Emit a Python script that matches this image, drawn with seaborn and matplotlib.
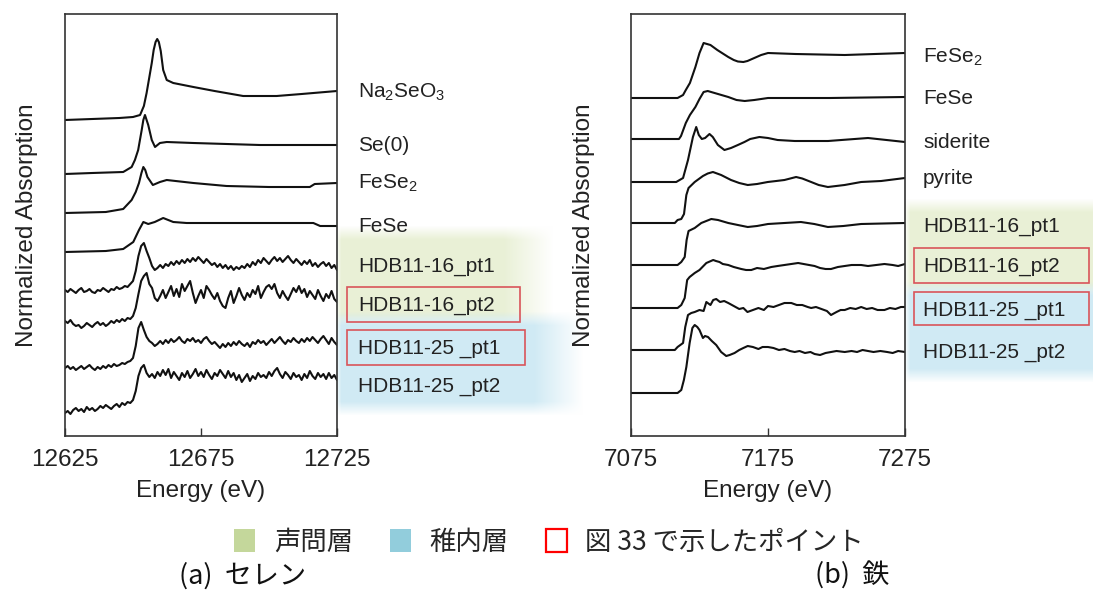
import numpy as np
import pandas as pd
import matplotlib
matplotlib.use("Agg")
import matplotlib.pyplot as plt
from matplotlib.patches import Patch, Rectangle
import seaborn as sns

# ---------------- data (heights in arbitrary stacked absorption units) ----------------
# (a) Se K-edge
se_energy_grid = np.arange(12625, 12726, 1)

se_na2seo3_e = [12625, 12635, 12645, 12650, 12652.6, 12654, 12655.0, 12656.9, 12657.6, 12658.3, 12658.9,
                12659.5, 12660.2, 12661.1, 12662.4, 12664.8, 12672.2, 12680, 12690.5, 12702.8, 12712, 12725]
se_na2seo3_y = [316, 317, 318, 319, 321, 330, 343, 373, 386, 394, 397,
                394, 385, 366, 356, 353, 349, 345, 340, 340, 342, 345]

se_se0_e = [12625, 12635, 12646.4, 12649.5, 12650.7, 12651.9, 12653.2, 12653.8, 12654.4, 12655.6, 12656.9,
            12658.1, 12659.9, 12662.4, 12672.2, 12696.7, 12725]
se_se0_y = [262, 263, 264, 269, 276, 286, 306, 316, 321, 311, 296,
            289, 293, 294, 293, 291, 291]

se_fese2_e = [12625, 12640, 12646.4, 12649.5, 12651, 12652.2, 12653.1, 12653.8, 12654.5, 12655.3, 12657.3,
              12659.9, 12662.4, 12672.2, 12684.4, 12700, 12715.0, 12716.8, 12725]
se_fese2_y = [223, 224, 227, 236, 244, 253, 263, 269, 266, 259, 251,
              254, 256, 253, 250, 249, 249, 252, 253]

se_fese_e = [12625, 12640, 12646.4, 12650.1, 12652.2, 12653.8, 12655.6, 12658, 12661.1, 12664.8, 12669.7,
             12696.7, 12716.3, 12718.8, 12725]
se_fese_y = [184, 185, 187, 194, 206, 214, 212, 214, 218, 214, 213,
             213, 213, 210, 210]

se_hdb16_pt1_y = [146, 144, 147, 145, 143, 146, 148, 144, 145, 147, 144, 143, 146, 145, 148, 146, 144, 147, 146, 149,
                  147, 148, 150, 149, 152, 155,
                  165, 180, 190, 193, 185, 178, 170, 166, 168,
                  171, 168, 172, 170, 174, 171, 175, 172, 176, 173, 177,
                  174, 178, 175, 179, 176, 173, 177, 174, 171, 173,
                  169, 172, 168, 171, 167, 170, 166, 169, 167, 170,
                  168, 172, 169, 174, 171, 176, 173, 178, 175, 172,
                  176, 179, 175, 178, 174, 177, 180, 176, 173, 177,
                  174, 171, 175, 172, 176, 170, 173, 169, 172, 174,
                  170, 173, 168, 171, 166]

se_hdb16_pt2_y = [115, 113, 116, 112, 110, 111, 108, 110, 113, 111, 109, 112, 114, 111, 113, 110, 112, 115, 113, 116,
                  114, 117, 115, 118, 117,
                  120, 128, 142, 155, 160, 163, 152, 148, 138, 135, 140,
                  146, 138, 144, 150, 140, 147, 139, 152, 145, 150,
                  155, 143, 133, 140, 146, 138, 150, 146, 141, 137,
                  143, 135, 130, 128, 138, 145, 133, 140, 148, 141,
                  136, 143, 139, 146, 142, 150, 138, 144, 149, 151,
                  147, 152, 143, 138, 145, 140, 136, 142, 148, 144,
                  150, 143, 147, 139, 145, 141, 137, 146, 140, 135,
                  142, 138, 145, 137, 134]

se_hdb25_pt1_y = [68, 70, 67, 69, 66, 68, 70, 67, 69, 71, 68, 66, 69, 67, 70, 68, 71, 69, 72, 70,
                  71, 73, 72, 74, 75,
                  78, 90, 108, 114, 106, 99, 95, 93, 90, 92,
                  95, 92, 96, 93, 97, 94, 96, 99, 95, 93, 97,
                  95, 98, 94, 96, 93, 97, 99, 95, 92, 94,
                  91, 88, 92, 89, 93, 90, 94, 91, 95, 92,
                  90, 93, 89, 94, 92, 96, 93, 95, 91, 94,
                  97, 93, 96, 99, 95, 92, 96, 94, 98, 95,
                  93, 97, 94, 98, 95, 99, 96, 93, 97, 100,
                  96, 92, 98, 94, 91]

se_hdb25_pt2_y = [23, 25, 22, 26, 28, 25, 27, 24, 29, 26, 28, 25, 27, 30, 28, 31, 29, 27, 30, 32,
                  29, 33, 31, 34, 33,
                  36, 45, 60, 68, 71, 63, 59, 62, 58, 64,
                  60, 66, 61, 67, 58, 64, 60, 56, 63, 59, 65,
                  58, 62, 67, 60, 64, 59, 66, 61, 57, 63,
                  60, 66, 62, 58, 65, 59, 63, 56, 61, 54,
                  58, 62, 55, 60, 57, 63, 59, 61, 58, 64,
                  60, 65, 68, 62, 58, 64, 61, 57, 63, 59,
                  61, 56, 62, 58, 65, 60, 57, 63, 59, 62,
                  57, 63, 58, 61, 56]

# (b) Fe K-edge
fe_fese2_e = [7075, 7109, 7113, 7115, 7118, 7120, 7122, 7125, 7128, 7133, 7138, 7146, 7150, 7153, 7157,
              7160, 7165, 7170, 7175, 7185, 7195, 7231, 7275]
fe_fese2_y = [338, 338, 341, 346, 353, 361, 369, 383, 393, 391, 386, 379, 376, 374.5, 374,
              375, 378, 381, 383, 382.5, 382, 381, 383]

fe_fese_e = [7075, 7110, 7111.5, 7115, 7118, 7122, 7125, 7128, 7131, 7136, 7141, 7146, 7152, 7158, 7165,
             7175, 7220, 7275]
fe_fese_y = [297, 297, 300, 313, 321, 329, 337, 344, 345, 343, 341, 339, 336, 335, 336,
             338, 338, 339]

fe_siderite_e = [7075, 7108, 7113, 7116.6, 7120.2, 7122.6, 7124.5, 7126.7, 7129.1, 7132.3, 7134.7, 7138.4,
                 7143.2, 7148, 7153, 7157.8, 7162, 7168.7, 7175, 7182, 7194.5, 7218.8, 7248, 7275]
fe_siderite_y = [254, 254, 258, 276, 299, 309, 301, 297, 298, 302, 299, 291,
                 286, 288, 291, 294, 297, 299, 298, 296, 295, 295, 298, 294]

fe_pyrite_e = [7075, 7107, 7109, 7111.7, 7113.7, 7115.4, 7117, 7121.5, 7127.5, 7131, 7134.8, 7140.8, 7148,
               7154, 7160.2, 7167, 7174.8, 7181, 7187, 7195.5, 7200, 7206.5, 7212, 7218.7, 7230.9, 7243,
               7257.6, 7275]
fe_pyrite_y = [213, 213, 216, 217, 222, 241, 248, 254, 260, 262.5, 264, 261, 256,
               253, 251, 252, 254, 255, 256, 259, 257.5, 254, 251, 249, 251, 254,
               255, 258]

fe_hdb16_pt1_e = [7075, 7109, 7111.7, 7114.2, 7115.6, 7117, 7121.5, 7126.3, 7133.6, 7138.5, 7146, 7153, 7160.2,
                  7167, 7175, 7187, 7199, 7208.8, 7218.7, 7230, 7243, 7275]
fe_hdb16_pt1_y = [171, 171, 174, 179, 196, 205, 208, 213, 217, 216, 213, 211, 209,
                  210, 212, 213, 214, 212, 209, 210, 212, 213]

fe_hdb16_pt2_e = [7075, 7109, 7111.7, 7114.2, 7116, 7117.8, 7121.5, 7125, 7130, 7135, 7137, 7139.6, 7142, 7146,
                  7150, 7155.5, 7159, 7162.8, 7167, 7172, 7177.4, 7182, 7187, 7192, 7197, 7201, 7205, 7209,
                  7213, 7217, 7221, 7226, 7231, 7236, 7243, 7248, 7254, 7260, 7266, 7270, 7275]
fe_hdb16_pt2_y = [128, 128, 131, 138, 156, 159, 163, 166, 173, 176, 175, 174, 172, 171,
                  169, 167, 166, 166, 168, 167, 169, 170, 171, 172, 173, 172, 171, 170,
                  168, 167, 167, 169, 170, 171, 171, 170, 171, 172, 171, 170, 172]

fe_hdb25_pt1_e = [7075, 7107, 7109, 7113, 7114.6, 7116.6, 7119, 7121.5, 7125, 7128, 7130, 7133, 7135, 7137.2,
                  7140, 7143, 7146, 7150, 7154, 7157, 7160, 7164, 7168, 7172, 7175, 7179, 7183, 7187, 7192,
                  7196, 7200, 7204, 7206.5, 7210, 7214, 7218, 7221, 7225, 7228, 7231, 7235, 7239, 7243,
                  7247, 7251, 7255, 7260, 7264, 7268, 7272, 7275]
fe_hdb25_pt1_y = [86, 86, 89, 93, 109, 121, 123, 124, 126, 125, 134, 131, 136, 137,
                  134, 135, 133, 130, 127, 128, 124, 126, 128, 126, 130, 129, 131, 133, 133,
                  131, 131, 129, 128, 129, 127, 125, 121, 124, 126, 126, 128, 127, 129,
                  127, 128, 126, 126, 128, 127, 129, 129]

fe_hdb25_pt2_e = [7075, 7109, 7111.7, 7113.6, 7115.4, 7117.8, 7119.8, 7121.5, 7123.4, 7125, 7127.5, 7129,
                  7131.2, 7134, 7137.2, 7140.8, 7144.5, 7147, 7150.6, 7154, 7157, 7160.2, 7164, 7168, 7171,
                  7175, 7179, 7183, 7187, 7191, 7194.5, 7198, 7202, 7206, 7209, 7213, 7217, 7221, 7225,
                  7231, 7236, 7240, 7244, 7248, 7252, 7257, 7262, 7266, 7270, 7275]
fe_hdb25_pt2_y = [43, 43, 46, 56, 69, 93, 108, 111, 109, 106, 98, 100,
                  99, 95, 91, 84, 80, 81, 83, 86, 88, 90, 89, 87, 89,
                  89, 88, 86, 87, 85, 84, 85, 83, 84, 82, 81, 83, 84, 85,
                  84, 85, 84, 86, 85, 84, 85, 84, 83, 85, 84]

se_labels = ["Na$_2$SeO$_3$", "Se(0)", "FeSe$_2$", "FeSe",
             "HDB11-16_pt1", "HDB11-16_pt2", "HDB11-25 _pt1", "HDB11-25 _pt2"]
fe_labels = ["FeSe$_2$", "FeSe", "siderite", "pyrite",
             "HDB11-16_pt1", "HDB11-16_pt2", "HDB11-25 _pt1", "HDB11-25 _pt2"]

se_ticks = [12625, 12675, 12725]
fe_ticks = [7075, 7175, 7275]
x_label = "Energy (eV)"
y_label = "Normalized Absorption"
legend_labels = ["声問層", "稚内層", "図 33 で示したポイント"]
captions = ["(a)  セレン", "(b)  鉄"]

# ---------------- build long-form tables ----------------
se_series = [
    (se_na2seo3_e, se_na2seo3_y), (se_se0_e, se_se0_y), (se_fese2_e, se_fese2_y), (se_fese_e, se_fese_y),
    (se_energy_grid, se_hdb16_pt1_y), (se_energy_grid, se_hdb16_pt2_y),
    (se_energy_grid, se_hdb25_pt1_y), (se_energy_grid, se_hdb25_pt2_y),
]
fe_series = [
    (fe_fese2_e, fe_fese2_y), (fe_fese_e, fe_fese_y), (fe_siderite_e, fe_siderite_y), (fe_pyrite_e, fe_pyrite_y),
    (fe_hdb16_pt1_e, fe_hdb16_pt1_y), (fe_hdb16_pt2_e, fe_hdb16_pt2_y),
    (fe_hdb25_pt1_e, fe_hdb25_pt1_y), (fe_hdb25_pt2_e, fe_hdb25_pt2_y),
]


def to_df(series, labels):
    frames = []
    for (e, y), lab in zip(series, labels):
        frames.append(pd.DataFrame({"energy": np.asarray(e, float), "absorption": np.asarray(y, float), "sample": lab}))
    return pd.concat(frames, ignore_index=True)


se_df = to_df(se_series, se_labels)
fe_df = to_df(fe_series, fe_labels)

# ---------------- style ----------------
sns.set_theme(style="white")
plt.rcParams["font.family"] = ["Liberation Sans", "Noto Sans CJK JP", "DejaVu Sans"]
plt.rcParams["mathtext.fontset"] = "custom"
plt.rcParams["mathtext.rm"] = "Liberation Sans"
plt.rcParams["mathtext.it"] = "Liberation Sans:italic"
plt.rcParams["mathtext.bf"] = "Liberation Sans:bold"

W, H = 1093, 594
fig = plt.figure(figsize=(W / 100, H / 100), dpi=100)
fig.patch.set_facecolor("white")


def fx(x):
    return x / W


def fy(y):
    return 1 - y / H


# soft coloured backgrounds behind sample labels
bg = fig.add_axes([0, 0, 1, 1], zorder=0)
yy, xx = np.mgrid[0:H, 0:W]
img = np.ones((H, W, 3))


def soft(t, a, b, wa, wb):
    return np.clip((t - a) / wa + 0.5, 0, 1) * np.clip((b - t) / wb + 0.5, 0, 1)


green_bg = np.array([233, 240, 214]) / 255
blue_bg = np.array([208, 234, 244]) / 255
regions = [
    (338, 528, 232, 322, green_bg, 50),
    (338, 558, 318, 408, blue_bg, 50),
    (907, 1110, 205, 292, green_bg, 30),
    (907, 1110, 288, 375, blue_bg, 30),
]
for x0, x1, y0, y1, col, fr in regions:
    a = soft(xx, x0, x1, 6, fr) * soft(yy, y0, y1, 14, 14)
    img = img * (1 - a[..., None]) + col * a[..., None]
bg.imshow(img, extent=(0, W, H, 0), aspect="auto", interpolation="bilinear")
bg.set_xlim(0, W)
bg.set_ylim(H, 0)
bg.axis("off")

axL = fig.add_axes([fx(65), fy(436), 272 / W, 422 / H], zorder=2)
axR = fig.add_axes([fx(631), fy(436), 274 / W, 422 / H], zorder=2)

for ax, df, ticks, xlim, ylab_x in [
    (axL, se_df, se_ticks, (12625, 12725), -27 / 272),
    (axR, fe_df, fe_ticks, (7075, 7275), -36 / 274),
]:
    sns.lineplot(data=df, x="energy", y="absorption", units="sample", estimator=None,
                 sort=False, color="#111111", linewidth=1.5, ax=ax, legend=False)
    ax.set_facecolor("none")
    ax.set_xlim(*xlim)
    ax.set_ylim(0, 422)
    ax.set_xticks(ticks)
    ax.set_xticklabels([str(t) for t in ticks])
    ax.set_yticks([])
    ax.tick_params(axis="x", direction="in", length=6, width=1.0, color="#333333",
                   labelsize=17.5, pad=9, bottom=True)
    ax.set_xlabel(x_label, fontsize=17.5, labelpad=7, color="#222222")
    ax.set_ylabel(y_label, fontsize=17.5, color="#222222")
    ax.yaxis.set_label_coords(ylab_x, 0.5)
    for s in ax.spines.values():
        s.set_visible(True)
        s.set_color("#333333")
        s.set_linewidth(1.2)
    for t in ax.get_xticklabels():
        t.set_color("#222222")

# sample labels
se_label_y = [92, 145, 183, 227, 267, 305, 348, 387]
fe_label_y = [57, 99, 143, 178, 227, 267, 310, 353]
for lab, y in zip(se_labels, se_label_y):
    fig.text(fx(358), fy(y), lab, fontsize=15, ha="left", va="center", color="#222222", zorder=5)
for lab, y in zip(fe_labels, fe_label_y):
    fig.text(fx(923), fy(y), lab, fontsize=15, ha="left", va="center", color="#222222", zorder=5)

# red boxes marking points of Fig. 33
red_box = "#d9545a"
for x0, y0, x1, y1 in [(347, 287, 520, 322), (347, 330, 525, 365), (914, 248, 1089, 283), (914, 292, 1089, 325)]:
    fig.patches.append(Rectangle((fx(x0), fy(y1)), (x1 - x0) / W, (y1 - y0) / H, transform=fig.transFigure,
                                 fill=False, edgecolor=red_box, linewidth=1.2, zorder=6))

# legend
handles = [Patch(facecolor="#c4d79b", edgecolor="none"),
           Patch(facecolor="#92cddc", edgecolor="none"),
           Patch(facecolor="white", edgecolor="#ff0000", linewidth=1.6)]
fig.legend(handles=handles, labels=legend_labels, ncol=3, loc="center",
           bbox_to_anchor=(fx(549), fy(542)), frameon=False,
           prop={"family": ["Noto Sans CJK JP", "DejaVu Sans"], "size": 19},
           handlelength=0.8, handleheight=0.95, handletextpad=0.7, columnspacing=1.4)

# captions
fig.text(fx(243), fy(576), captions[0], fontsize=19.5, ha="center", va="center",
         family=["Noto Sans CJK JP", "DejaVu Sans"], color="#111111")
fig.text(fx(852), fy(576), captions[1], fontsize=19.5, ha="center", va="center",
         family=["Noto Sans CJK JP", "DejaVu Sans"], color="#111111")

fig.savefig("out.png", dpi=100, facecolor="white")
